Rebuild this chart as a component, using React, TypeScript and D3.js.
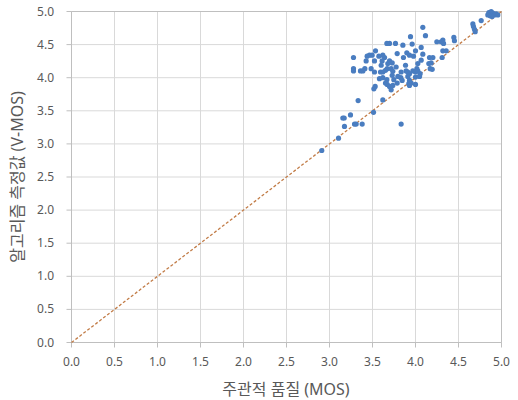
import React from "react";
import * as d3 from "d3";

const mosValues = [
  4.853, 4.88, 4.899, 4.919, 4.868, 4.938, 4.891, 4.957, 4.841, 4.764,
  4.667, 4.674, 4.686, 4.694, 4.446, 4.453, 4.318, 4.326, 4.248, 4.298,
  4.085, 4.116, 3.942, 3.667, 3.698, 3.767, 3.853, 3.961, 4.066, 3.535,
  3.465, 3.496, 3.438, 3.62, 3.64, 3.279, 3.574, 3.787, 3.899, 3.93,
  4.0, 4.085, 3.977, 4.163, 4.202, 4.318, 4.357, 4.31, 3.426, 3.523,
  3.612, 3.698, 3.729, 3.678, 3.671, 3.86, 4.027, 4.016, 4.066, 4.155,
  4.182, 4.171, 3.279, 3.279, 3.36, 3.388, 3.411, 3.484, 3.593, 3.62,
  3.651, 3.717, 3.736, 3.729, 3.884, 3.891, 3.911, 3.93, 3.969, 4.0,
  4.027, 4.054, 4.194, 3.911, 3.93, 3.95, 4.0, 4.047, 3.581, 3.62,
  3.667, 3.748, 3.795, 3.829, 3.845, 3.651, 3.671, 3.698, 3.717, 3.736,
  3.531, 3.516, 3.787, 3.922, 3.93, 4.0, 3.62, 3.333, 3.512, 3.155,
  3.171, 3.244, 3.174, 3.291, 3.31, 3.38, 3.833, 3.105, 2.91, 3.833,
  3.775, 3.523, 3.601,
];

const vmosValues = [
  4.985, 5.0, 4.975, 4.949, 4.934, 4.964, 4.924, 4.949, 4.949, 4.863,
  4.812, 4.772, 4.731, 4.695, 4.609, 4.558, 4.569, 4.518, 4.543, 4.543,
  4.761, 4.635, 4.619, 4.518, 4.518, 4.518, 4.492, 4.508, 4.457, 4.406,
  4.34, 4.34, 4.325, 4.34, 4.305, 4.305, 4.325, 4.365, 4.376, 4.34,
  4.406, 4.355, 4.325, 4.305, 4.305, 4.406, 4.406, 4.305, 4.254, 4.254,
  4.254, 4.254, 4.223, 4.213, 4.137, 4.305, 4.213, 4.137, 4.264, 4.213,
  4.223, 4.137, 4.137, 4.102, 4.102, 4.102, 4.137, 4.137, 4.086, 4.086,
  4.112, 4.137, 4.096, 4.036, 4.188, 4.102, 4.086, 4.061, 4.102, 4.086,
  4.102, 4.061, 4.127, 4.02, 3.959, 3.919, 4.01, 4.02, 3.985, 4.0,
  3.97, 3.97, 4.02, 4.0, 3.959, 3.919, 3.898, 3.868, 3.817, 3.883,
  3.868, 3.832, 3.919, 3.909, 3.883, 3.898, 3.665, 3.655, 3.477, 3.391,
  3.391, 3.437, 3.264, 3.299, 3.299, 3.299, 3.299, 3.086, 2.9, 4.086,
  4.162, 4.086, 4.188,
];

const tickValues = [0, 0.5, 1, 1.5, 2, 2.5, 3, 3.5, 4, 4.5, 5];
const xTitle = "주관적 품질 (MOS)";
const yTitle = "알고리즘 측정값 (V-MOS)";

export default function App() {
  const W = 518;
  const H = 400;
  const x = d3.scaleLinear().domain([0, 5]).range([71.5, 501.5]);
  const y = d3.scaleLinear().domain([0, 5]).range([342.5, 11.5]);
  const fmt = d3.format(".1f");
  const font = "'Noto Sans', 'Noto Sans CJK KR', sans-serif";
  const points = mosValues.map((m, i) => ({ m, v: vmosValues[i] }));
  const diag = d3.line<number>().x((d) => x(d)).y((d) => y(d))([0, 5]) || "";

  return (
    <svg width={W} height={H} style={{ position: "absolute", left: 0, top: 0 }}>
      <rect width={W} height={H} fill="#ffffff" />
      {tickValues.map((t) => (
        <line key={"gx" + t} x1={x(t)} x2={x(t)} y1={y(0)} y2={y(5)} stroke="#d9d9d9" strokeWidth={1} />
      ))}
      {tickValues.map((t) => (
        <line key={"gy" + t} x1={x(0)} x2={x(5)} y1={y(t)} y2={y(t)} stroke="#d9d9d9" strokeWidth={1} />
      ))}
      <line x1={x(0)} x2={x(5)} y1={y(5)} y2={y(5)} stroke="#bfbfbf" />
      <line x1={x(5)} x2={x(5)} y1={y(0)} y2={y(5)} stroke="#bfbfbf" />
      <line x1={x(0)} x2={x(0)} y1={y(0)} y2={y(5)} stroke="#bfbfbf" />
      <line x1={x(0)} x2={x(5)} y1={y(0)} y2={y(0)} stroke="#bfbfbf" />
      {tickValues.map((t) => (
        <line key={"tx" + t} x1={x(t)} x2={x(t)} y1={y(0)} y2={y(0) + 5} stroke="#bfbfbf" />
      ))}
      {tickValues.map((t) => (
        <line key={"ty" + t} x1={x(0) - 5} x2={x(0)} y1={y(t)} y2={y(t)} stroke="#bfbfbf" />
      ))}
      {tickValues.map((t) => (
        <text key={"lx" + t} x={x(t)} y={366} textAnchor="middle" fontFamily={font} fontSize={12} fill="#595959">
          {fmt(t)}
        </text>
      ))}
      {tickValues.map((t) => (
        <text key={"ly" + t} x={54} y={y(t) + 4} textAnchor="end" fontFamily={font} fontSize={12} fill="#595959">
          {fmt(t)}
        </text>
      ))}
      <path d={diag} stroke="#c27c47" strokeWidth={1.3} strokeDasharray="3,2" fill="none" />
      {points.map((p, i) => (
        <circle key={i} cx={x(p.m)} cy={y(p.v)} r={2.6} fill="#4a7dc0" />
      ))}
      <text x={286} y={395} textAnchor="middle" fontFamily={font} fontSize={16} fill="#595959">
        {xTitle}
      </text>
      <text
        transform={`translate(23,177) rotate(-90)`}
        textAnchor="middle"
        fontFamily={font}
        fontSize={16}
        fill="#595959"
      >
        {yTitle}
      </text>
    </svg>
  );
}
